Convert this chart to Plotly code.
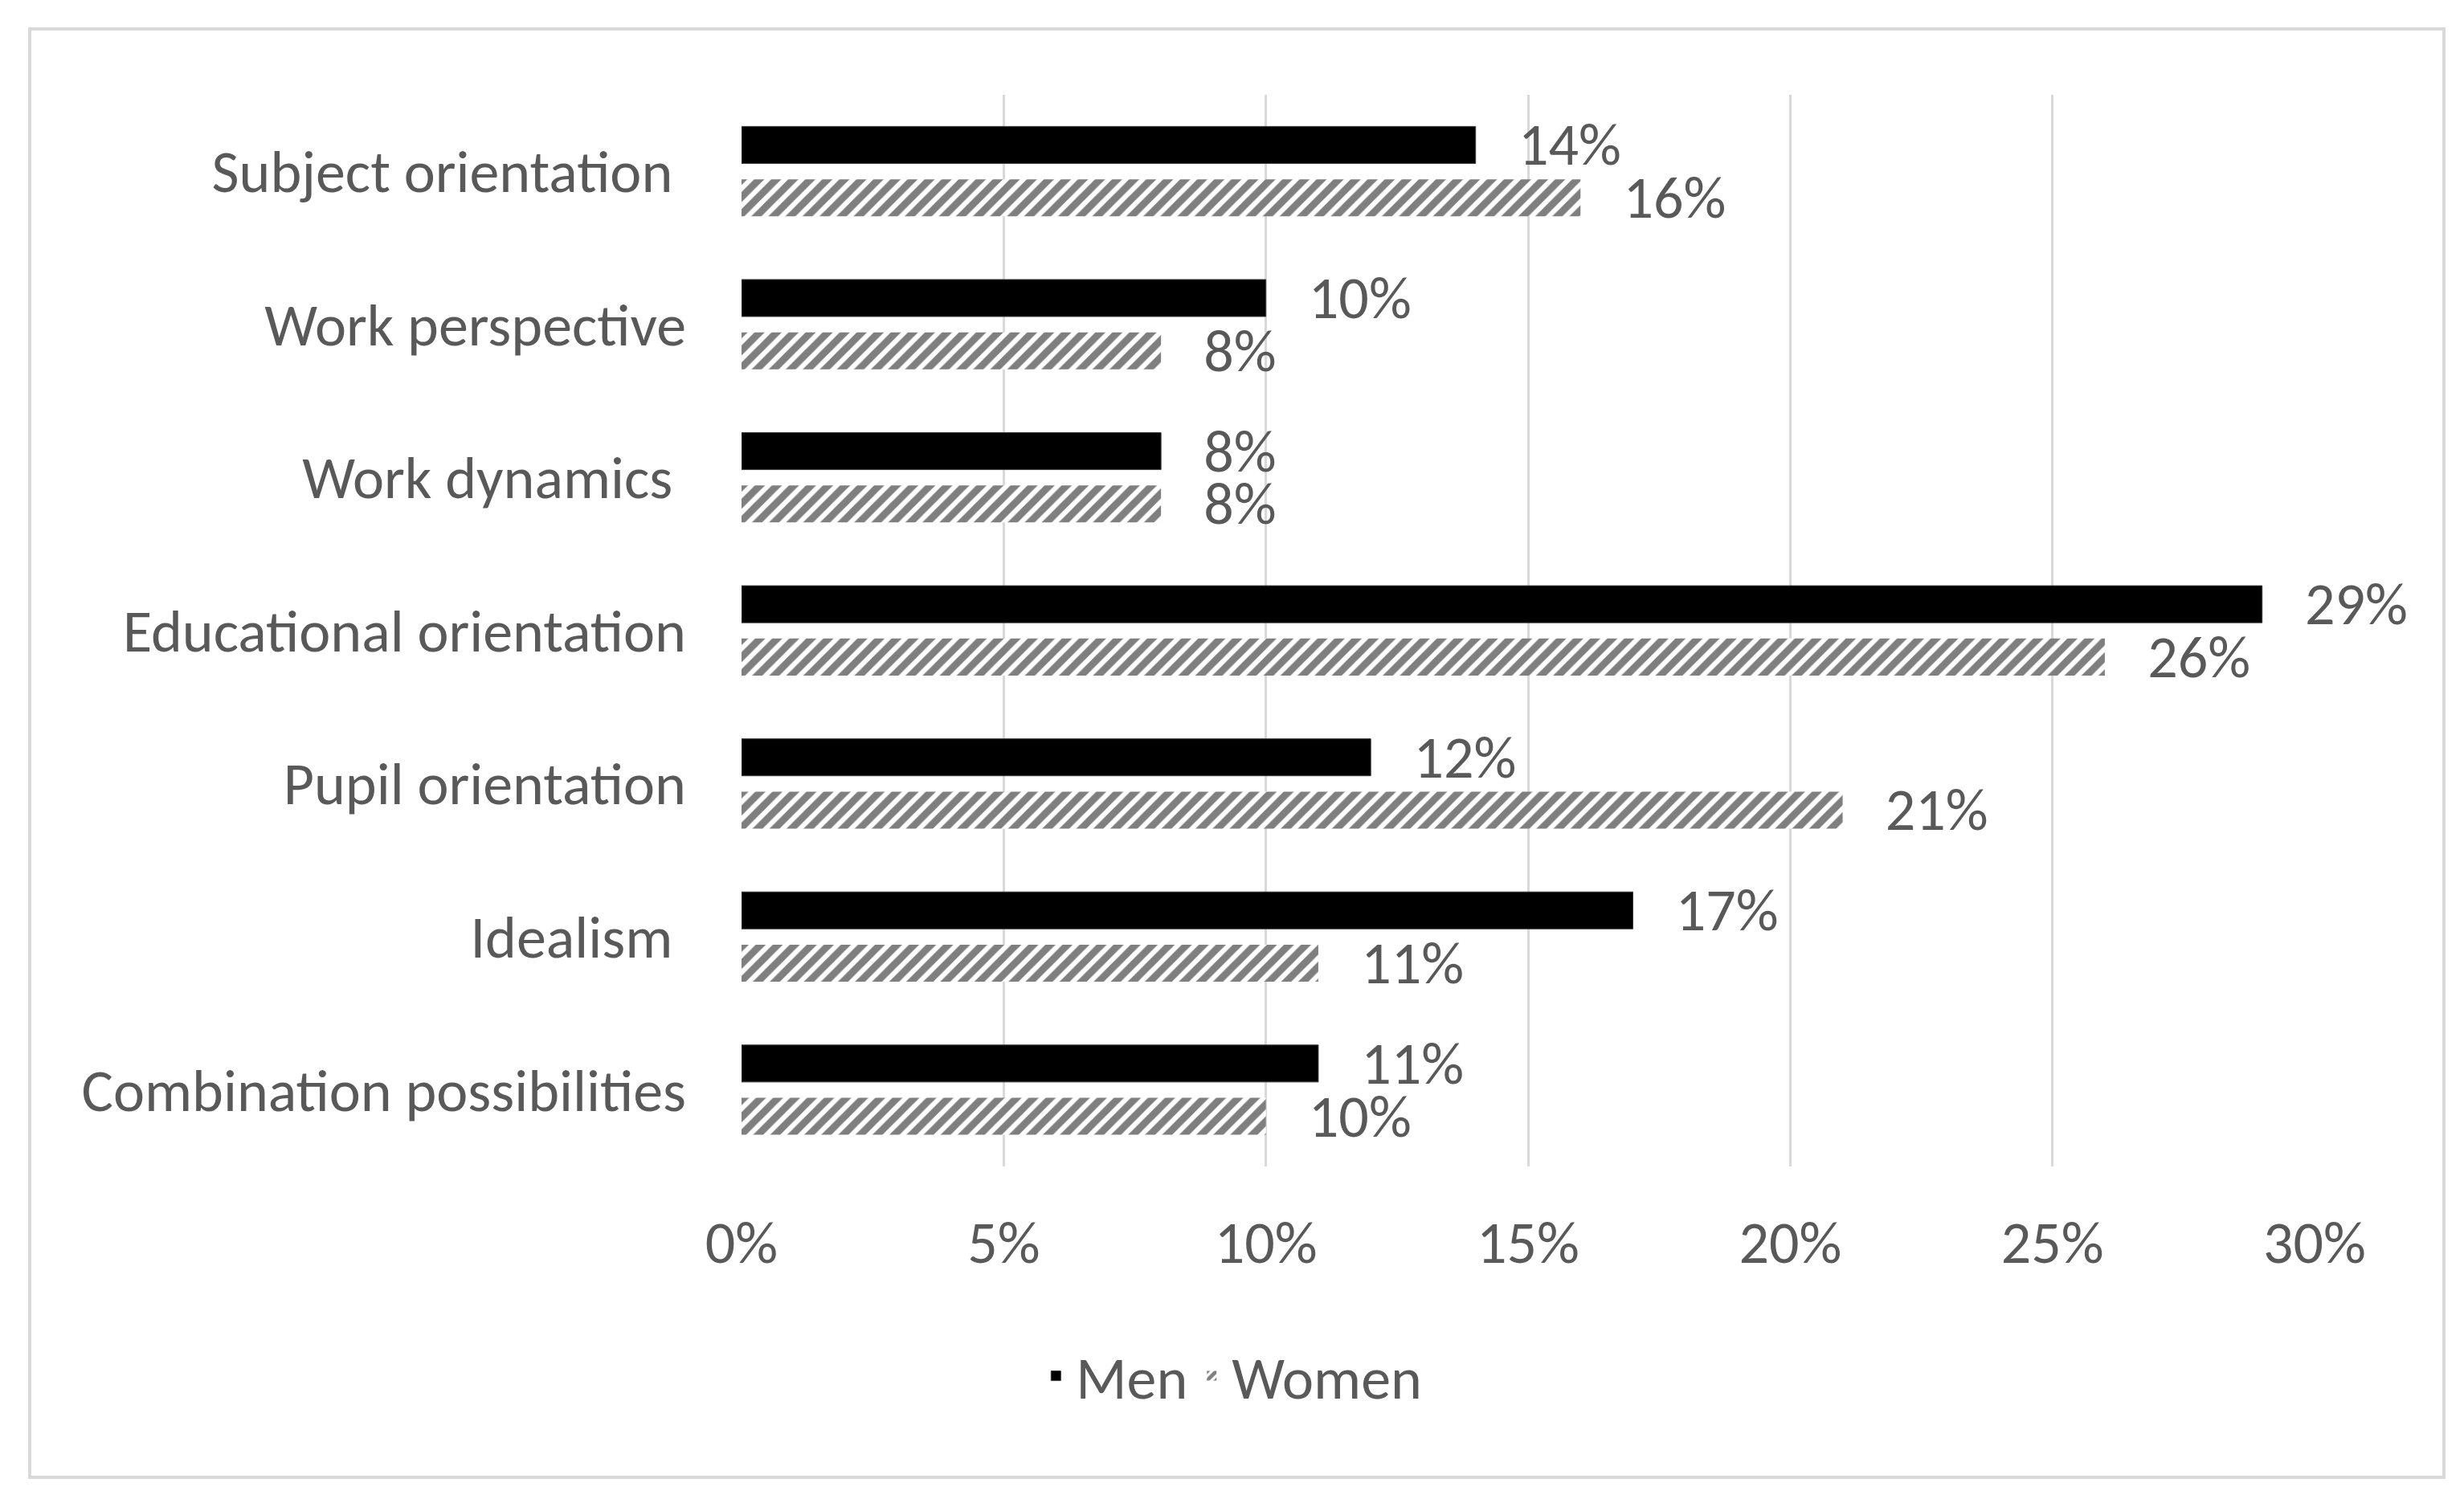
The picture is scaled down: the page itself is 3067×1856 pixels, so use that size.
import plotly.graph_objects as go

# ---- data ----
categories = [
    "Subject orientation",
    "Work perspective",
    "Work dynamics",
    "Educational orientation",
    "Pupil orientation",
    "Idealism",
    "Combination possibilities",
]
# labels as typed in the source (three of them carry a trailing space)
category_labels = [
    "Subject orientation\u00a0",
    "Work perspective",
    "Work dynamics\u00a0",
    "Educational orientation",
    "Pupil orientation",
    "Idealism\u00a0",
    "Combination possibilities",
]
men = [0.14, 0.10, 0.08, 0.29, 0.12, 0.17, 0.11]
women = [0.16, 0.08, 0.08, 0.26, 0.21, 0.11, 0.10]
x_tickvals = [0.00, 0.05, 0.10, 0.15, 0.20, 0.25, 0.30]
x_ticktext = ["0%", "5%", "10%", "15%", "20%", "25%", "30%"]

# ---- layout constants ----
W, H = 3067, 1856
L, R, T, B = 915, 194, 110, 412
PW, PH = W - L - R, H - T - B
FONT = "Carlito, Calibri, Lato, sans-serif"
FS = 74
GRAY = "#595959"
GRID = "#D9D9D9"
PAD = "\u00a0" * 3

fig = go.Figure()
fig.add_trace(go.Bar(
    name="Men", y=categories, x=men, orientation="h",
    marker=dict(color="black", line=dict(color="#3a3a3a", width=1)),
    text=[f"{v:.0%}" for v in men], texttemplate=PAD + "%{text}",
    textposition="outside", constraintext="none", cliponaxis=False,
    textfont=dict(family=FONT, size=FS, color=GRAY),
))
fig.add_trace(go.Bar(
    name="Women", y=categories, x=women, orientation="h",
    marker=dict(color="white", line=dict(width=0),
                pattern=dict(shape="/", fgcolor="black", bgcolor="white",
                             size=15, solidity=0.6)),
    text=[f"{v:.0%}" for v in women], texttemplate=PAD + "%{text}",
    textposition="outside", constraintext="none", cliponaxis=False,
    textfont=dict(family=FONT, size=FS, color=GRAY),
))

# outer light-gray frame (chart area border)
fig.add_shape(
    type="rect", xref="paper", yref="paper", layer="below",
    x0=(29 - L) / PW, x1=(3034 - L) / PW,
    y0=(H - 1831 - B) / PH, y1=(H - 28 - B) / PH,
    line=dict(color=GRID, width=4), fillcolor="rgba(0,0,0,0)",
)

fig.update_layout(
    width=W, height=H,
    margin=dict(l=L, r=R, t=T, b=B, autoexpand=False),
    paper_bgcolor="white", plot_bgcolor="white",
    barmode="group", bargap=0.31, bargroupgap=0.3,
    font=dict(family=FONT, size=FS, color=GRAY),
    showlegend=True,
    legend=dict(
        orientation="h", xref="container", yref="container",
        x=0.497, xanchor="center", y=1 - 1705 / H, yanchor="middle",
        font=dict(family=FONT, size=FS, color=GRAY),
        itemwidth=40, traceorder="normal",
    ),
    xaxis=dict(
        range=[0, 0.30], tickvals=x_tickvals, ticktext=x_ticktext,
        showgrid=True, gridcolor=GRID, gridwidth=3,
        zeroline=False, showline=False, ticks="",
        ticklabelstandoff=45,
        tickfont=dict(family=FONT, size=FS, color=GRAY),
    ),
    yaxis=dict(
        categoryorder="array", categoryarray=categories,
        tickmode="array", tickvals=categories, ticktext=category_labels,
        autorange="reversed",
        showgrid=False, zeroline=False, showline=False, ticks="",
        ticklabelstandoff=68,
        tickfont=dict(family=FONT, size=FS, color=GRAY),
    ),
)

fig.write_html("out.html")
